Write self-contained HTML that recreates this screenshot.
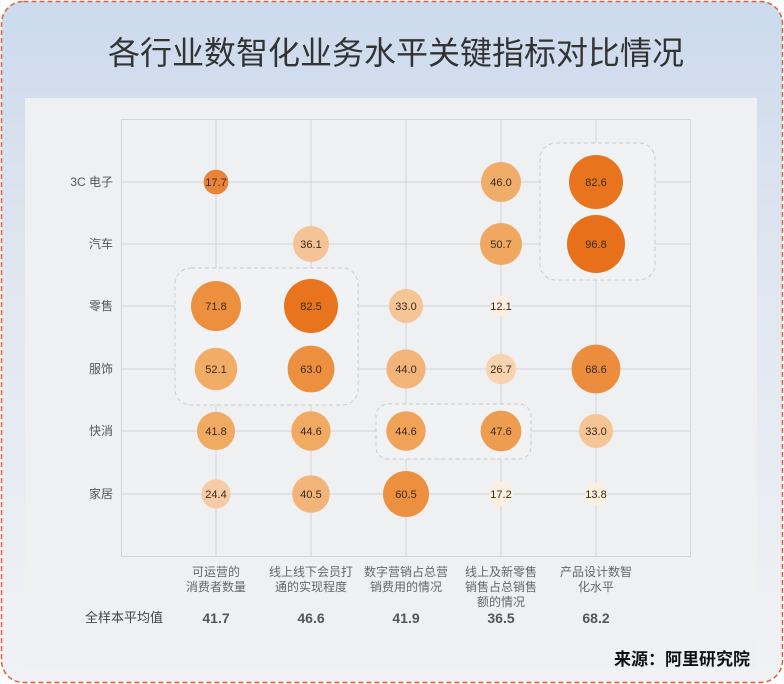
<!DOCTYPE html>
<html><head><meta charset="utf-8"><style>
html,body{margin:0;padding:0;width:784px;height:684px;overflow:hidden;background:#fff}
</style></head><body>
<svg width="784" height="684" xmlns="http://www.w3.org/2000/svg" font-family="'Liberation Sans','Noto Sans CJK SC',sans-serif">
<defs><linearGradient id="bg" x1="0" y1="0" x2="0" y2="1"><stop offset="0" stop-color="#cbdaee"/><stop offset="0.35" stop-color="#dfe5ef"/><stop offset="1" stop-color="#f1f2f5"/></linearGradient></defs>
<rect x="1.5" y="1.5" width="781" height="681" rx="22" fill="url(#bg)" stroke="#e0603a" stroke-width="1.5" stroke-dasharray="5,3"/>
<text x="396" y="64" text-anchor="middle" font-size="32" fill="#333">各行业数智化业务水平关键指标对比情况</text>
<rect x="25" y="98" width="732" height="570" fill="#eff0f2"/>
<g stroke="#d2d4d8" stroke-width="1" fill="none">
<rect x="121.5" y="119.5" width="569" height="437"/>
<line x1="121" y1="182" x2="690" y2="182"/><line x1="121" y1="244" x2="690" y2="244"/><line x1="121" y1="306" x2="690" y2="306"/><line x1="121" y1="369" x2="690" y2="369"/><line x1="121" y1="431" x2="690" y2="431"/><line x1="121" y1="494" x2="690" y2="494"/>
<line x1="216" y1="119" x2="216" y2="556"/><line x1="311" y1="119" x2="311" y2="556"/><line x1="406" y1="119" x2="406" y2="556"/><line x1="501" y1="119" x2="501" y2="556"/><line x1="596" y1="119" x2="596" y2="556"/>
</g>
<g fill="#f1f2f4" stroke="#c8cacd" stroke-dasharray="4,3">
<rect x="175" y="268" width="183" height="137" rx="16"/>
<rect x="376" y="404" width="155" height="55" rx="12"/>
<rect x="540" y="143" width="115" height="137" rx="16"/>
</g>
<g font-size="12" fill="#555" text-anchor="end">
<text x="113" y="186">3C 电子</text><text x="113" y="248">汽车</text><text x="113" y="310">零售</text><text x="113" y="373">服饰</text><text x="113" y="435">快消</text><text x="113" y="498">家居</text>
</g>
<g>
<circle cx="216" cy="182" r="12.4" fill="#e8843a"/>
<circle cx="501" cy="182" r="20" fill="#f0ad6a"/>
<circle cx="596" cy="182" r="27" fill="#e8741d"/>
<circle cx="311" cy="244" r="18" fill="#f5c496"/>
<circle cx="501" cy="244" r="21" fill="#f0a860"/>
<circle cx="596" cy="244" r="29" fill="#e8701a"/>
<circle cx="216" cy="306" r="25" fill="#ec9040"/>
<circle cx="311" cy="306" r="27" fill="#e8741d"/>
<circle cx="406" cy="306" r="17" fill="#f5c596"/>
<circle cx="501" cy="306" r="10.3" fill="#fcefe0"/>
<circle cx="216" cy="369" r="21.3" fill="#f1ac66"/>
<circle cx="311" cy="369" r="23.4" fill="#ec9040"/>
<circle cx="406" cy="369" r="19.6" fill="#f2b478"/>
<circle cx="501" cy="369" r="15.2" fill="#f7d3b0"/>
<circle cx="596" cy="369" r="24.4" fill="#ec8d3e"/>
<circle cx="216" cy="431" r="19.1" fill="#f1aa62"/>
<circle cx="311" cy="431" r="19.7" fill="#f1aa62"/>
<circle cx="406" cy="431" r="19.7" fill="#efa258"/>
<circle cx="501" cy="431" r="20.4" fill="#ee9c50"/>
<circle cx="596" cy="431" r="17" fill="#f5c596"/>
<circle cx="216" cy="494" r="14.6" fill="#f6cca6"/>
<circle cx="311" cy="494" r="18.8" fill="#f2b478"/>
<circle cx="406" cy="494" r="23" fill="#ec9040"/>
<circle cx="501" cy="494" r="12.2" fill="#fcefe0"/>
<circle cx="596" cy="494" r="11" fill="#fcefe0"/>
</g>
<g font-size="11" fill="#3a2a1a" text-anchor="middle">
<text x="216" y="186">17.7</text><text x="501" y="186">46.0</text><text x="596" y="186">82.6</text>
<text x="311" y="248">36.1</text><text x="501" y="248">50.7</text><text x="596" y="248">96.8</text>
<text x="216" y="310">71.8</text><text x="311" y="310">82.5</text><text x="406" y="310">33.0</text><text x="501" y="310">12.1</text>
<text x="216" y="373">52.1</text><text x="311" y="373">63.0</text><text x="406" y="373">44.0</text><text x="501" y="373">26.7</text><text x="596" y="373">68.6</text>
<text x="216" y="435">41.8</text><text x="311" y="435">44.6</text><text x="406" y="435">44.6</text><text x="501" y="435">47.6</text><text x="596" y="435">33.0</text>
<text x="216" y="498">24.4</text><text x="311" y="498">40.5</text><text x="406" y="498">60.5</text><text x="501" y="498">17.2</text><text x="596" y="498">13.8</text>
</g>
<g font-size="12" fill="#666" text-anchor="middle">
<text x="216" y="576">可运营的</text><text x="216" y="591">消费者数量</text>
<text x="311" y="576">线上线下会员打</text><text x="311" y="591">通的实现程度</text>
<text x="406" y="576">数字营销占总营</text><text x="406" y="591">销费用的情况</text>
<text x="501" y="576">线上及新零售</text><text x="501" y="591">销售占总销售</text><text x="501" y="606">额的情况</text>
<text x="596" y="576">产品设计数智</text><text x="596" y="591">化水平</text>
</g>
<text x="124" y="622" font-size="13" fill="#444" text-anchor="middle">全样本平均值</text>
<g font-size="14" font-weight="bold" fill="#555" text-anchor="middle">
<text x="216" y="623">41.7</text><text x="311" y="623">46.6</text><text x="406" y="623">41.9</text><text x="501" y="623">36.5</text><text x="596" y="623">68.2</text>
</g>
<text x="750" y="665" font-size="17" font-weight="bold" fill="#111" text-anchor="end">来源：阿里研究院</text>
</svg>
</body></html>
